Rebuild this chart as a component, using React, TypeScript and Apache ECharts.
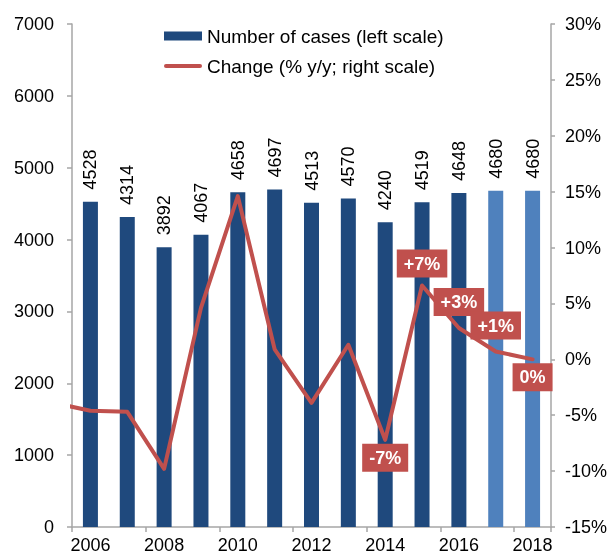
import React, { useEffect, useRef } from "react";
import * as echarts from "echarts";

const years = ["2006", "2007", "2008", "2009", "2010", "2011", "2012", "2013", "2014", "2015", "2016", "2017", "2018"];
const cases = [4528, 4314, 3892, 4067, 4658, 4697, 4513, 4570, 4240, 4519, 4648, 4680, 4680];
const forecastFrom = "2017";
const changeYears = [2005, 2006, 2007, 2008, 2009, 2010, 2011, 2012, 2013, 2014, 2015, 2016, 2017, 2018];
const change = [-3.9, -4.6, -4.7, -9.8, 4.6, 14.6, 0.9, -3.9, 1.3, -7.2, 6.6, 2.8, 0.7, 0.0];
const labelYears = [2014, 2015, 2016, 2017, 2018];
const labelTexts = ["-7%", "+7%", "+3%", "+1%", "0%"];
const labelSides = ["bottom", "top", "top", "top", "bottom"];
const labelGaps = [3, 7, 11, 11, 3];

const FONT = "'Liberation Sans', Arial, sans-serif";
const DARK = "#1f497d";
const LIGHT = "#4f81bd";
const RED = "#c0504d";
const AXIS = "#a6a6a6";
const LINE_ICON = "path://M0,0M38,9M2,2.5L36,2.5A2,2 0 0 1 36,6.5L2,6.5A2,2 0 0 1 2,2.5Z";

export default function App() {
  const ref = useRef<HTMLDivElement>(null);
  useEffect(() => {
    if (!ref.current) return;
    const chart = echarts.init(ref.current, null, { renderer: "svg" });
    const fIdx = years.indexOf(forecastFrom);
    chart.setOption({
      animation: false,
      textStyle: { fontFamily: FONT },
      grid: { left: 72, right: 61, top: 24, bottom: 28, containLabel: false, outerBoundsMode: "none" },
      legend: {
        orient: "vertical",
        left: 159,
        top: 21,
        itemWidth: 38,
        itemHeight: 9,
        itemGap: 10,
        textStyle: { fontSize: 19, color: "#000", fontFamily: FONT, lineHeight: 20 },
        data: [
          { name: "Number of cases (left scale)", icon: "rect" },
          { name: "Change (% y/y; right scale)", icon: LINE_ICON },
        ],
      },
      xAxis: [
        {
          type: "category",
          data: years,
          boundaryGap: true,
          axisLine: { lineStyle: { color: AXIS, width: 1.5 } },
          axisTick: { show: true, length: 5, lineStyle: { color: AXIS, width: 1.5 } },
          axisLabel: { interval: 1, fontSize: 18, lineHeight: 18, color: "#000", margin: 9, fontFamily: FONT },
          splitLine: { show: false },
        },
        {
          type: "value",
          min: 2005.5,
          max: 2018.5,
          show: false,
          splitLine: { show: false },
        },
      ],
      yAxis: [
        {
          type: "value",
          min: 0,
          max: 7000,
          interval: 1000,
          position: "left",
          axisLine: { show: true, lineStyle: { color: AXIS, width: 1.5 } },
          axisTick: { show: true, length: 5, lineStyle: { color: AXIS, width: 1.5 } },
          axisLabel: {
            fontSize: 18,
            color: "#000",
            margin: 18,
            fontFamily: FONT,
            formatter: (v: number) => String(v),
          },
          splitLine: { show: false },
        },
        {
          type: "value",
          min: -15,
          max: 30,
          interval: 5,
          position: "right",
          axisLine: { show: true, lineStyle: { color: AXIS, width: 1.5 } },
          axisTick: { show: true, length: 4, lineStyle: { color: AXIS, width: 1.5 } },
          axisLabel: { fontSize: 18, color: "#000", margin: 14, formatter: "{value}%", fontFamily: FONT },
          splitLine: { show: false },
        },
      ],
      series: [
        {
          name: "Number of cases (left scale)",
          type: "bar",
          xAxisIndex: 0,
          yAxisIndex: 0,
          barWidth: 15,
          itemStyle: { color: DARK },
          label: {
            show: true,
            position: "top",
            rotate: 90,
            align: "left",
            verticalAlign: "middle",
            distance: 12,
            fontSize: 18,
            color: "#000",
            fontFamily: FONT,
          },
          data: cases.map((v, i) => ({
            value: v,
            itemStyle: { color: i >= fIdx ? LIGHT : DARK },
          })),
        },
        {
          name: "Change (% y/y; right scale)",
          type: "line",
          xAxisIndex: 1,
          yAxisIndex: 1,
          symbol: "none",
          showSymbol: false,
          clip: true,
          itemStyle: { color: RED },
          lineStyle: { color: RED, width: 4, cap: "round", join: "round" },
          z: 3,
          data: changeYears.map((y, i) => [y, change[i]]),
        },
        {
          name: "labels",
          type: "scatter",
          xAxisIndex: 1,
          yAxisIndex: 1,
          symbol: "circle",
          symbolSize: 2,
          itemStyle: { color: RED, opacity: 1 },
          z: 4,
          data: labelYears.map((y, k) => {
            const i = changeYears.indexOf(y);
            return {
              value: [y, change[i]],
              label: {
                show: true,
                position: labelSides[k],
                distance: labelGaps[k],
                formatter: labelTexts[k],
                color: "#fff",
                opacity: 1,
                fontWeight: "bold",
                fontSize: 18,
                lineHeight: 18,
                fontFamily: FONT,
                backgroundColor: RED,
                padding: [5, 7],
              },
            };
          }),
        },
      ],
    });
    return () => chart.dispose();
  }, []);
  return (
    <div
      ref={ref}
      style={{ position: "fixed", left: 0, top: 0, width: 612, height: 555 }}
    />
  );
}
